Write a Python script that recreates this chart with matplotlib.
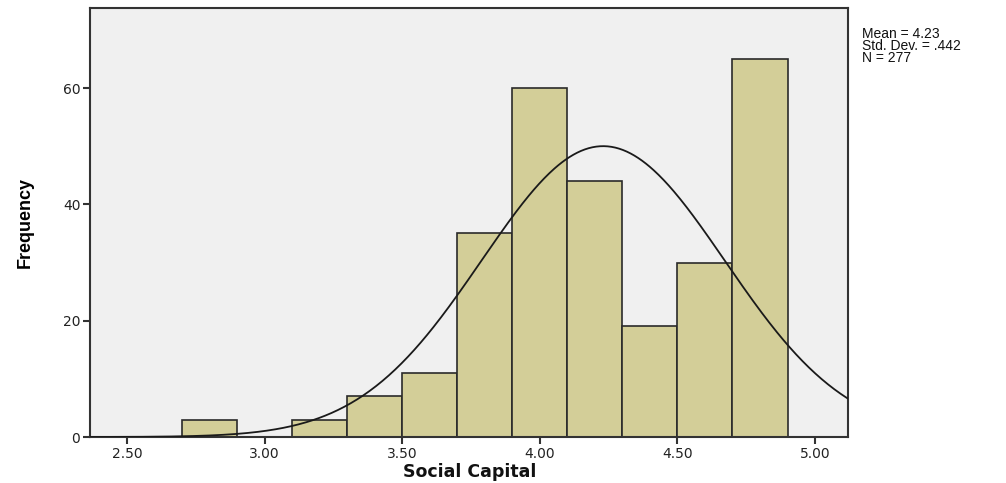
import numpy as np
import matplotlib
matplotlib.use("Agg")
import matplotlib.pyplot as plt

# Histogram bins (width 0.2) and their counts
bin_edges = [2.7, 2.9, 3.1, 3.3, 3.5, 3.7, 3.9, 4.1, 4.3, 4.5, 4.7, 4.9]
counts = [3, 0, 3, 7, 11, 35, 60, 44, 19, 30, 65]
mean = 4.23
std_dev = 0.442
n_total = 277
x_ticks = [2.5, 3.0, 3.5, 4.0, 4.5, 5.0]
x_tick_labels = ["2.50", "3.00", "3.50", "4.00", "4.50", "5.00"]
y_ticks = [0, 20, 40, 60]

fig = plt.figure(figsize=(10.06, 4.83), dpi=100)
ax = fig.add_axes([0.0895, 0.0952, 0.7535, 0.8882])
ax.set_facecolor("#F0F0F0")

edges = np.array(bin_edges)
widths = np.diff(edges)
ax.bar(edges[:-1], counts, width=widths, align="edge",
       color="#D3CE98", edgecolor="#2A2A2A", linewidth=1.2, zorder=2)

# Normal curve scaled to the histogram
xs = np.linspace(2.36, 5.13, 600)
bw = widths[0]
ys = n_total * bw / (std_dev * np.sqrt(2 * np.pi)) * np.exp(-0.5 * ((xs - mean) / std_dev) ** 2)
ax.plot(xs, ys, color="#1A1A1A", linewidth=1.3, zorder=3)

ax.set_xlim(2.3656, 5.12)
ax.set_ylim(0, 73.75)
ax.set_xticks(x_ticks)
ax.set_xticklabels(x_tick_labels)
ax.set_yticks(y_ticks)
ax.tick_params(axis="both", direction="out", length=5, width=1.5, color="#333333",
               labelsize=10, labelcolor="#222222", pad=2)
for lbl in ax.get_xticklabels() + ax.get_yticklabels():
    lbl.set_family("DejaVu Sans")
for s in ax.spines.values():
    s.set_color("#333333")
    s.set_linewidth(1.5)

# Axis titles
fig.text(0.4665, 0.022, "Social Capital", family="DejaVu Sans", fontweight="bold",
         fontsize=12.5, ha="center", va="center", color="#111111")
ax.set_ylabel("Frequency", family="Liberation Sans", fontweight="bold",
              fontsize=13, labelpad=21)

fig.text(0.857, 0.945, "Mean = 4.23\nStd. Dev. = .442\nN = 277",
         family="Liberation Sans", fontsize=10, va="top", ha="left",
         linespacing=0.85, color="#111111")

fig.savefig("out.png", dpi=100, facecolor="white")
